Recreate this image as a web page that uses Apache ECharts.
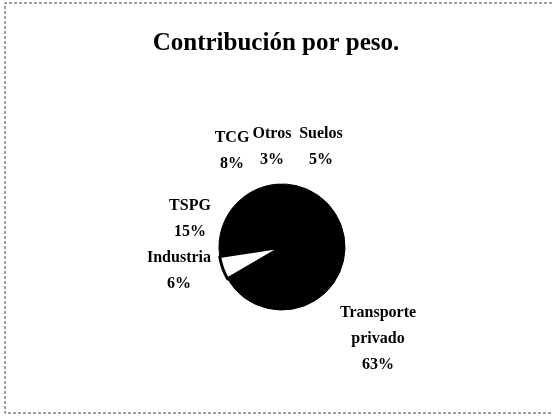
<!DOCTYPE html>
<html>
<head>
<meta charset="utf-8">
<script src="https://cdn.jsdelivr.net/npm/echarts@6/dist/echarts.min.js"></script>
<style>
    html, body { margin: 0; padding: 0; background: #fff; }
    #chart { width: 552px; height: 416px; }
</style>
</head>
<body>
<div id="chart"></div>
<script>
    // datos (orden horario desde arriba)
    var categorias = ['Otros', 'Suelos', 'Transporte privado', 'Industria', 'TSPG', 'TCG'];
    var porcentajes = [3, 5, 63, 6, 15, 8];

    // donde estaba cada rotulo en el original (centro del bloque de texto)
    var rotulos = [[272, 147], [321, 147], [378, 339], [179, 271], [190, 219], [232, 151]];

    var chart = echarts.init(document.getElementById('chart'));

    var datos = [];
    for (var i = 0; i < categorias.length; i++) {
        var blanco = categorias[i] === 'Industria';
        datos.push({
            name: categorias[i],
            value: porcentajes[i],
            itemStyle: {
                color: blanco ? '#fff' : '#000',
                borderColor: '#000',
                borderWidth: blanco ? 3 : 1
            }
        });
    }

    var option = {
        animation: false,
        backgroundColor: '#fff',
        title: {
            text: 'Contribución por peso.',
            left: 'center',
            top: 26,
            textStyle: {
                fontFamily: 'Liberation Serif',
                fontWeight: 'bold',
                fontSize: 25,
                color: '#000'
            }
        },
        graphic: [
            // marco punteado del escaneo
            {
                type: 'polyline',
                shape: { points: [[552, 3], [5, 3], [5, 413], [552, 413]] },
                style: { stroke: '#444', lineWidth: 1, lineDash: [3, 2], fill: null },
                silent: true
            }
        ],
        series: [{
            type: 'pie',
            center: [282, 247],
            radius: 63,
            startAngle: 106,
            clockwise: true,
            emphasis: { disabled: true },
            label: {
                show: true,
                position: 'outside',
                fontFamily: 'Liberation Serif',
                fontSize: 16,
                fontWeight: 'bold',
                color: '#000',
                lineHeight: 26,
                align: 'center',
                formatter: function (p) {
                    return p.name.replace(' ', '\n') + '\n' + p.value + '%';
                }
            },
            labelLine: { show: false },
            labelLayout: function (p) {
                var pos = rotulos[p.dataIndex];
                return { x: pos[0], y: pos[1], align: 'center', verticalAlign: 'middle' };
            },
            data: datos
        }]
    };
    chart.setOption(option);
</script>
</body>
</html>
